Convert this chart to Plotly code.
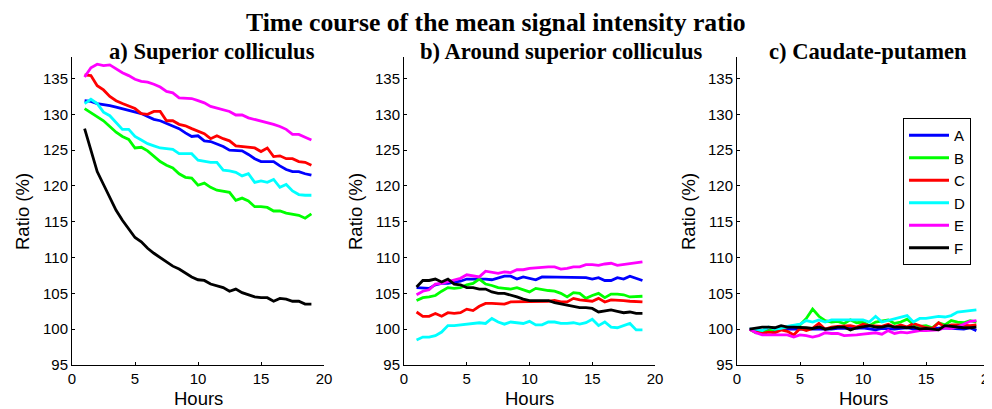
import plotly.graph_objects as go

hours = [1 + 0.5 * i for i in range(37)]
series_names = ["A", "B", "C", "D", "E", "F"]
series_colors = ["#0000FF", "#00FF00", "#FF0000", "#00FFFF", "#FF00FF", "#000000"]
panel_titles = ["a) Superior colliculus", "b) Around superior colliculus", "c) Caudate-putamen"]
main_title = "Time course of the mean signal intensity ratio"
x_ticks = [0, 5, 10, 15, 20]
y_ticks = [95, 100, 105, 110, 115, 120, 125, 130, 135]

# Panel a: Superior colliculus
a_A = [131.9, 131.8, 131.5, 131.4, 131.2, 131.0, 130.8, 130.6, 130.4, 130.1, 129.7, 129.3, 129.1, 128.7, 128.3, 128.0, 127.4, 126.9, 127.0, 126.3, 126.2, 125.9, 125.5, 125.0, 125.0, 124.9, 124.4, 123.8, 123.4, 123.4, 123.4, 122.8, 122.3, 122.0, 122.0, 121.7, 121.5]
a_B = [130.8, 130.2, 129.6, 129.1, 128.3, 127.5, 126.9, 126.5, 125.3, 125.4, 124.9, 124.2, 123.4, 122.9, 122.5, 121.7, 121.2, 121.1, 120.1, 120.4, 119.8, 119.4, 119.2, 119.1, 118.0, 118.3, 117.9, 117.1, 117.1, 117.0, 116.5, 116.5, 116.2, 116.0, 115.9, 115.5, 116.1]
a_C = [135.5, 135.4, 134.0, 133.4, 132.5, 131.9, 131.5, 131.2, 130.8, 130.1, 130.0, 130.4, 130.4, 129.1, 129.1, 128.6, 128.4, 128.0, 127.7, 127.3, 126.6, 127.0, 126.6, 126.3, 125.6, 125.5, 125.5, 125.3, 124.8, 125.3, 124.1, 124.2, 123.8, 123.8, 123.4, 123.3, 122.9]
a_D = [131.5, 132.1, 131.5, 130.3, 129.8, 128.8, 127.9, 127.9, 126.9, 126.4, 125.9, 125.6, 125.3, 125.2, 125.1, 124.5, 124.5, 124.5, 123.6, 123.4, 123.3, 123.3, 122.2, 122.1, 121.9, 121.4, 121.7, 120.5, 120.7, 120.5, 120.9, 119.8, 120.2, 119.3, 118.8, 118.7, 118.7]
a_E = [135.2, 136.5, 137.0, 136.8, 136.9, 136.3, 135.8, 135.4, 134.9, 134.6, 134.5, 134.2, 133.8, 133.2, 133.0, 132.3, 132.3, 132.2, 131.9, 131.6, 131.1, 130.9, 130.6, 130.4, 129.9, 129.9, 129.5, 129.3, 129.0, 128.8, 128.6, 128.3, 127.9, 127.2, 127.2, 126.8, 126.4]
a_F = [128.0, 125.0, 122.0, 120.2, 118.3, 116.6, 115.2, 114.0, 112.8, 112.2, 111.3, 110.6, 110.0, 109.4, 108.8, 108.4, 107.8, 107.3, 106.9, 106.8, 106.3, 106.1, 105.8, 105.3, 105.6, 105.1, 104.8, 104.5, 104.4, 104.4, 103.9, 104.3, 104.2, 103.9, 103.9, 103.5, 103.5]

# Panel b: Around superior colliculus
b_A = [105.8, 105.7, 105.7, 106.2, 106.4, 106.4, 106.5, 106.7, 107.0, 107.0, 107.1, 107.0, 106.9, 107.2, 107.4, 107.4, 107.0, 107.3, 107.1, 106.9, 107.3, 107.3, 107.3, 107.3, 107.2, 107.2, 107.2, 107.2, 107.0, 107.2, 106.8, 106.8, 107.2, 107.0, 107.4, 107.1, 106.8]
b_B = [104.0, 104.4, 104.5, 104.7, 105.3, 105.8, 105.7, 105.8, 106.2, 106.4, 107.0, 106.3, 106.1, 105.8, 105.7, 105.6, 105.8, 105.5, 105.2, 105.7, 105.5, 105.4, 105.3, 105.0, 104.5, 105.1, 105.0, 104.3, 104.7, 105.0, 104.4, 104.9, 104.9, 104.8, 104.5, 104.5, 104.6]
b_C = [102.4, 101.8, 101.8, 102.2, 101.8, 102.3, 102.2, 102.3, 102.8, 102.6, 103.2, 103.6, 103.6, 103.6, 103.5, 103.8, 103.8, 103.8, 103.9, 103.9, 103.8, 103.9, 104.0, 103.8, 103.8, 104.3, 104.1, 104.0, 103.9, 104.3, 103.8, 104.1, 104.1, 104.0, 103.9, 103.8, 103.8]
b_D = [98.5, 98.9, 98.9, 99.1, 99.6, 100.5, 100.5, 100.6, 100.8, 100.8, 100.9, 100.8, 101.5, 101.0, 100.7, 101.0, 100.9, 100.8, 101.1, 100.6, 100.6, 101.0, 101.0, 100.8, 100.8, 100.9, 100.7, 100.9, 101.4, 100.5, 101.0, 100.3, 100.2, 100.5, 100.8, 99.9, 99.9]
b_E = [104.8, 105.3, 105.5, 106.3, 106.4, 106.6, 106.8, 107.1, 107.6, 107.5, 107.3, 108.1, 107.9, 107.8, 108.0, 107.9, 108.3, 108.3, 108.5, 108.6, 108.7, 108.7, 108.7, 108.4, 108.5, 108.7, 108.7, 109.0, 109.0, 108.9, 109.1, 109.2, 108.9, 109.0, 109.1, 109.2, 109.4]
b_F = [105.9, 106.8, 106.8, 107.0, 106.6, 107.0, 106.3, 106.2, 105.8, 105.8, 105.6, 105.6, 105.2, 105.0, 105.0, 104.8, 104.5, 104.2, 104.0, 104.0, 104.0, 104.0, 103.7, 103.5, 103.4, 103.1, 103.0, 103.0, 102.9, 102.4, 102.6, 102.7, 102.5, 102.3, 102.4, 102.2, 102.2]

# Panel c: Caudate-putamen
c_A = [100.0, 99.8, 99.7, 99.8, 99.7, 100.0, 100.0, 99.9, 100.0, 100.0, 100.0, 99.9, 99.9, 100.0, 100.1, 100.1, 100.0, 100.1, 100.2, 100.0, 99.9, 100.1, 100.0, 100.0, 100.1, 100.2, 100.0, 100.1, 100.0, 100.1, 100.2, 100.2, 100.1, 100.0, 100.0, 100.2, 99.8]
c_B = [100.0, 99.5, 99.6, 99.8, 100.0, 100.2, 100.4, 100.5, 100.6, 101.5, 102.8, 101.8, 101.2, 101.0, 101.1, 100.8, 101.3, 100.9, 101.0, 100.5, 101.0, 101.1, 101.3, 100.8, 101.0, 101.4, 100.7, 100.4, 100.5, 100.2, 100.9, 100.6, 101.2, 101.0, 100.9, 101.2, 101.0]
c_C = [100.0, 99.6, 99.4, 99.6, 99.5, 99.9, 99.7, 99.2, 100.1, 99.8, 100.1, 100.8, 100.0, 100.3, 100.4, 100.4, 100.5, 100.3, 100.7, 100.5, 100.4, 100.4, 100.7, 100.3, 100.6, 100.3, 100.8, 100.5, 100.2, 100.1, 100.9, 100.3, 100.6, 100.6, 100.5, 100.5, 100.6]
c_D = [100.0, 100.0, 99.8, 100.3, 100.0, 100.1, 100.4, 100.6, 100.7, 101.2, 101.0, 101.3, 101.0, 101.3, 101.3, 101.4, 101.3, 101.4, 101.3, 101.0, 101.8, 101.0, 101.2, 101.4, 101.7, 101.9, 101.0, 101.5, 101.5, 101.6, 101.8, 101.7, 101.9, 102.4, 102.5, 102.6, 102.7]
c_E = [100.0, 99.5, 99.2, 99.2, 99.1, 99.2, 99.2, 98.9, 99.2, 99.1, 98.9, 99.1, 99.5, 99.4, 99.4, 99.1, 99.1, 99.2, 99.3, 99.4, 99.5, 99.3, 99.8, 99.4, 99.6, 99.5, 99.7, 99.8, 99.8, 99.9, 99.9, 100.2, 100.1, 100.3, 100.7, 101.1, 101.2]
c_F = [100.0, 100.2, 100.3, 100.3, 100.2, 100.5, 100.3, 100.3, 100.3, 100.2, 100.1, 100.3, 100.0, 100.2, 100.3, 100.3, 99.9, 100.2, 100.3, 100.5, 100.3, 100.3, 100.5, 100.3, 100.3, 100.2, 100.3, 100.0, 100.1, 100.0, 99.9, 100.5, 100.4, 100.2, 100.2, 100.2, 100.3]

panels = [
    [a_A, a_B, a_C, a_D, a_E, a_F],
    [b_A, b_B, b_C, b_D, b_E, b_F],
    [c_A, c_B, c_C, c_D, c_E, c_F],
]

# The page body adds an 8 px offset; all window positions below are corrected by it.
OFF = 8
W, H = 992, 409
ML = 72 - OFF
MT = 57 - OFF
MR = W - (989 - OFF)
MB = H - (365 - OFF)
PW, PH = W - ML - MR, H - MT - MB


def px(x):
    return (x - OFF - ML) / PW


def py(y):
    return (H - MB - (y - OFF)) / PH


domains = [[px(72), px(324)], [px(404), px(655)], [px(737), px(989)]]
title_centers = [212, 561, 868]
ylabel_centers = [22, 355, 688]

fig = go.Figure()
sans = "Liberation Sans, Arial, sans-serif"
serif = "Liberation Serif, Times New Roman, serif"
axis_font = dict(family=sans, size=15, color="black")

for p, data in enumerate(panels):
    xa = "x" if p == 0 else f"x{p+1}"
    ya = "y" if p == 0 else f"y{p+1}"
    for i, vals in enumerate(data):
        fig.add_trace(go.Scatter(
            x=hours, y=vals, mode="lines", name=series_names[i],
            line=dict(color=series_colors[i], width=2.8),
            xaxis=xa, yaxis=ya, showlegend=(p == 2),
        ))
    xkey = "xaxis" if p == 0 else f"xaxis{p+1}"
    ykey = "yaxis" if p == 0 else f"yaxis{p+1}"
    fig.update_layout(**{
        xkey: dict(domain=domains[p], range=[0, 20], tickvals=x_ticks,
                   showline=True, linecolor="black", linewidth=1, mirror=False,
                   ticks="inside", ticklen=3, tickcolor="black", showgrid=False, zeroline=False,
                   tickfont=axis_font, anchor=ya, automargin=False),
        ykey: dict(domain=[0, 1], range=[95, 138], tickvals=y_ticks,
                   showline=True, linecolor="black", linewidth=1, mirror=False,
                   ticks="inside", ticklen=3, tickcolor="black", showgrid=False, zeroline=False,
                   tickfont=axis_font, anchor=xa, automargin=False),
    })
    fig.add_annotation(text=f"<b>{panel_titles[p]}</b>", xref="paper", yref="paper",
                       x=px(title_centers[p]), y=py(51), xanchor="center", yanchor="middle",
                       showarrow=False, font=dict(family=serif, size=22.6, color="black"))
    fig.add_annotation(text="Hours", xref="paper", yref="paper",
                       x=(domains[p][0] + domains[p][1]) / 2, y=py(398), xanchor="center", yanchor="middle",
                       showarrow=False, font=dict(family=sans, size=18.5, color="black"))
    fig.add_annotation(text="Ratio (%)", xref="paper", yref="paper", textangle=-90,
                       x=px(ylabel_centers[p]), y=py(212), xanchor="center", yanchor="middle",
                       showarrow=False, font=dict(family=sans, size=18.5, color="black"))

fig.add_annotation(text=f"<b>{main_title}</b>", xref="paper", yref="paper",
                   x=px(496), y=py(22), xanchor="center", yanchor="middle",
                   showarrow=False, font=dict(family=serif, size=25.7, color="black"))

fig.update_layout(
    width=W, height=H,
    margin=dict(l=ML, r=MR, t=MT, b=MB, autoexpand=False),
    paper_bgcolor="white", plot_bgcolor="white",
    legend=dict(x=px(903), y=py(118), xanchor="left", yanchor="top",
                bordercolor="black", borderwidth=1, bgcolor="white",
                font=dict(family=sans, size=15, color="black"),
                itemwidth=40, tracegroupgap=0),
)

fig.write_html("out.html")
